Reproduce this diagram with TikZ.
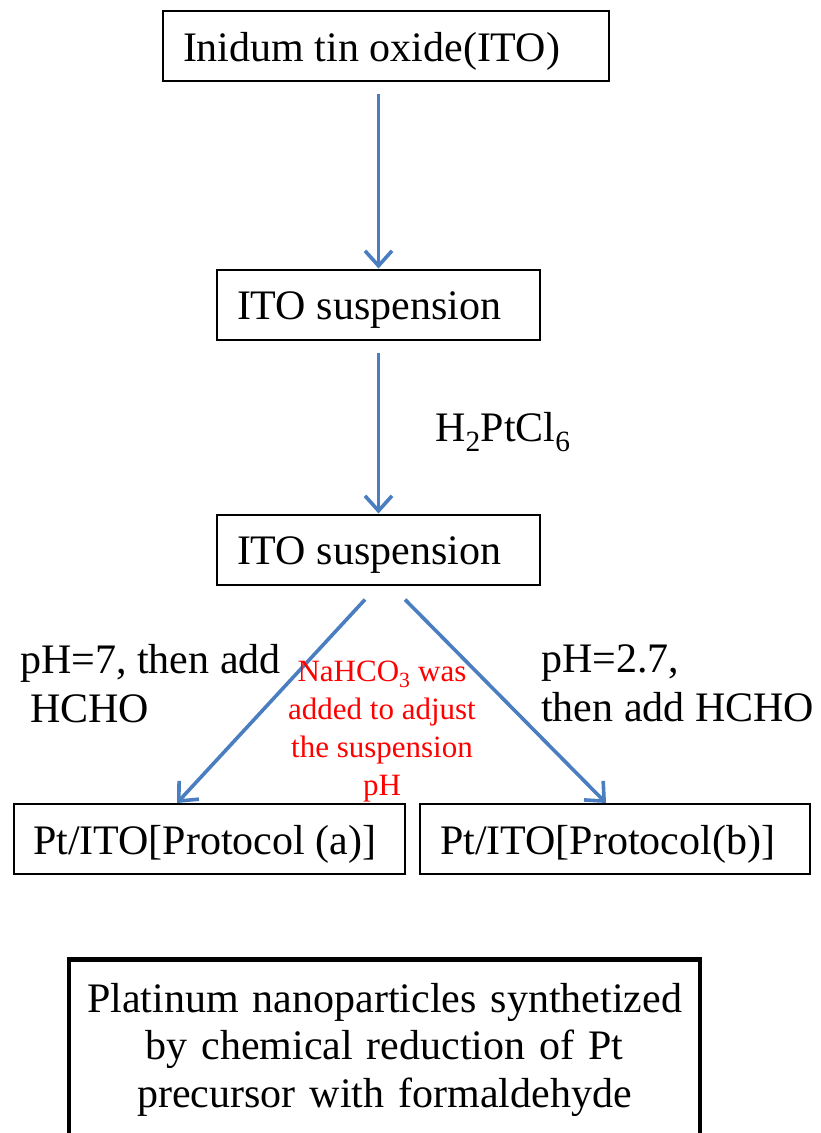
\documentclass[tikz,border=0pt]{standalone}
\usepackage{fontspec}
\setmainfont{Liberation Serif}
\usetikzlibrary{arrows.meta}
\definecolor{arrowblue}{RGB}{74,126,193}
\tikzset{
  stepbox/.style={draw, line width=2pt, minimum height=70pt, inner xsep=20pt, inner ysep=0pt, text height=38pt, text depth=8pt, font=\fontsize{42}{49}\selectfont},
  flow/.style={draw=arrowblue, line width=3.6pt, -{Straight Barb[length=15pt,width=27pt,line width=3.6pt]}},
  lbl/.style={inner sep=0pt, align=left, font=\fontsize{42}{49}\selectfont},
  note/.style={inner sep=0pt, align=center, text=red, font=\fontsize{31}{38}\selectfont},
  summary/.style={draw, line width=4.5pt, inner xsep=10pt, inner ysep=24pt, text width=611pt, align=center, font=\fontsize{42}{47.5}\selectfont},
}
\newcommand\lft[2]{\makebox[#1][l]{#2}}
\begin{document}
\begin{tikzpicture}[x=1pt,y=-1pt]
\useasboundingbox (0,0) rectangle (821,1133);
\clip (0,0) rectangle (821,1133);
\node[stepbox] (ito) at (386,46) {\lft{406pt}{Inidum tin oxide(ITO)}};
\node[stepbox] (s1) at (378.5,304.5) {\lft{283pt}{ITO suspension}};
\node[stepbox] (s2) at (378.5,549.5) {\lft{283pt}{ITO suspension}};
\node[stepbox, inner xsep=19pt] (pa) at (209.5,839) {\lft{353pt}{Pt/ITO[Protocol (a)]}};
\node[stepbox] (pb) at (615,839) {\lft{350pt}{Pt/ITO[Protocol(b)]}};
\draw[flow, shorten <=12pt] (s1.north |- ito.south) -- (s1.north);
\draw[flow, shorten <=12pt] (s1.south) -- (s2.north);
\draw[flow] ([xshift=-13.5pt,yshift=-14pt]s2.south) -- ([xshift=-32.5pt]pa.north);
\draw[flow] ([xshift=26.5pt,yshift=-14pt]s2.south) -- ([xshift=-9pt]pb.north);
\node[lbl, anchor=base west] (h2) at (435,441) {H\textsubscript{2}PtCl\textsubscript{6}};
\node[lbl, anchor=north west] (lcond) at (20,644) {pH=7, then add\\\hspace*{10pt}HCHO};
\node[lbl, anchor=north west] (rcond) at (541,644) {pH=2.7,\\then add HCHO};
\node[note, anchor=north] (na) at (382,661) {NaHCO\textsubscript{3} was\\added to adjust\\the suspension\\pH};
\node[summary, anchor=north] (sum) at (384.5,957) {Platinum nanoparticles synthetized\\by chemical reduction of Pt\\precursor with formaldehyde};
\end{tikzpicture}
\end{document}
